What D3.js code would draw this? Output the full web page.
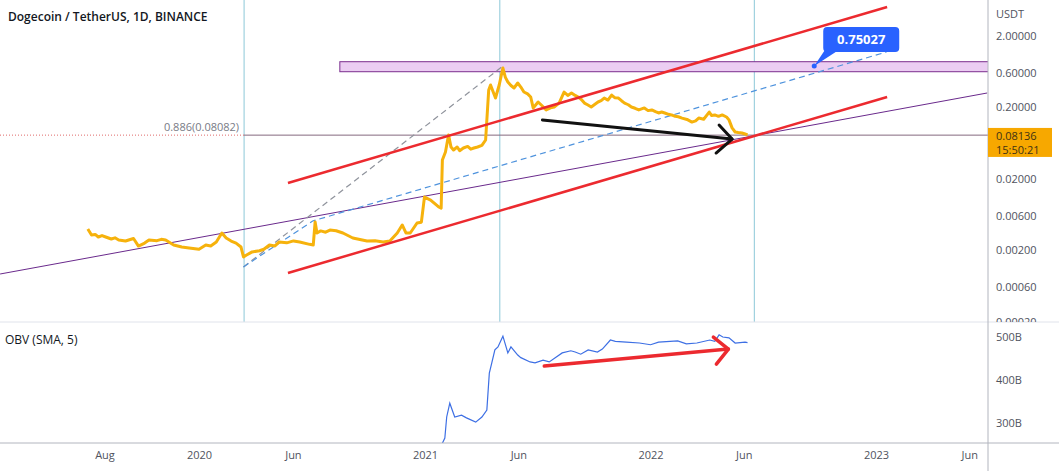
<!DOCTYPE html>
<html>
<head>
<meta charset="utf-8">
<script src="https://cdn.jsdelivr.net/npm/d3@7"></script>
<style>
  html, body { margin: 0; padding: 0; background: #fff; }
  svg { display: block; font-family: "Open Sans", "Noto Sans", sans-serif; }
</style>
</head>
<body>
<svg id="chart" width="1059" height="471"></svg>
<script>
// DOGE/USDT daily closes
const priceDates = [
  "2019-07-05","2019-07-11","2019-07-17","2019-07-22","2019-07-28","2019-08-03","2019-08-12","2019-08-18","2019-08-24","2019-09-04","2019-09-17",
  "2019-09-25","2019-10-05","2019-10-12","2019-10-25","2019-11-01","2019-11-08","2019-11-21","2019-12-04","2019-12-16",
  "2020-01-01","2020-01-12","2020-01-20","2020-01-29","2020-02-07","2020-02-14","2020-02-22","2020-03-01","2020-03-09",
  "2020-03-13","2020-03-18","2020-03-27","2020-04-08","2020-04-15","2020-04-24","2020-05-03","2020-05-10","2020-05-22","2020-06-02","2020-06-12",
  "2020-06-28","2020-07-04","2020-07-07","2020-07-10","2020-07-16","2020-07-24","2020-07-31","2020-08-10","2020-08-21","2020-09-06",
  "2020-09-29","2020-10-12","2020-10-25","2020-11-05","2020-11-17","2020-11-25","2020-12-01","2020-12-08","2020-12-19",
  "2020-12-26","2020-12-31","2021-01-10","2021-01-23","2021-01-27","2021-01-29","2021-02-03","2021-02-08",
  "2021-02-12","2021-02-16","2021-02-22","2021-02-26","2021-03-04","2021-03-11","2021-03-16","2021-03-21","2021-03-27","2021-04-03","2021-04-09","2021-04-14",
  "2021-04-17","2021-04-25","2021-05-01","2021-05-07","2021-05-11","2021-05-15","2021-05-20","2021-05-25","2021-05-31","2021-06-05","2021-06-10",
  "2021-06-16","2021-06-21","2021-06-25","2021-07-03","2021-07-09","2021-07-16","2021-07-23","2021-07-29","2021-08-06","2021-08-14","2021-08-20","2021-08-26",
  "2021-09-01","2021-09-06","2021-09-11","2021-09-16","2021-09-21","2021-09-27","2021-10-03","2021-10-08","2021-10-13","2021-10-18","2021-10-24","2021-10-30","2021-11-04","2021-11-10","2021-11-15","2021-11-20",
  "2021-11-26","2021-12-01","2021-12-07","2021-12-13","2021-12-22","2021-12-28","2022-01-03","2022-01-09","2022-01-14","2022-01-19","2022-01-24","2022-01-30","2022-02-04","2022-02-10","2022-02-15","2022-02-21",
  "2022-03-01","2022-03-09","2022-03-15","2022-03-20","2022-03-28","2022-04-06","2022-04-10","2022-04-15","2022-04-21","2022-04-27","2022-05-04","2022-05-08","2022-05-13","2022-05-18",
  "2022-05-23","2022-05-29","2022-06-03","2022-06-07"
];
const priceValues = [
  0.00393,0.00324,0.00330,0.00304,0.00318,0.00304,0.00285,0.00296,0.00276,0.00267,0.00290,
  0.00227,0.00250,0.00276,0.00270,0.00282,0.00276,0.00235,0.00220,0.00213,
  0.00205,0.00235,0.00228,0.00259,0.00346,0.00294,0.00267,0.00250,0.00220,
  0.00160,0.00170,0.00188,0.00195,0.00205,0.00235,0.00228,0.00259,0.00252,0.00268,0.00259,
  0.00240,0.00235,0.00494,0.00346,0.00370,0.00355,0.00380,0.00372,0.00346,0.00294,
  0.00267,0.00270,0.00259,0.00267,0.00346,0.00448,0.00346,0.00346,0.00477,
  0.00490,0.01100,0.01000,0.00800,0.00770,0.03630,0.04690,0.08120,
  0.05500,0.05010,0.05520,0.04900,0.05340,0.05620,0.05150,0.05340,0.05520,0.05800,0.06910,0.34600,
  0.40600,0.26700,0.40600,0.70200,0.52000,0.44700,0.40000,0.36900,0.43300,0.38000,0.32400,
  0.30500,0.27600,0.19400,0.23500,0.21000,0.18200,0.19500,0.20000,0.22700,0.32400,0.29000,0.31400,
  0.29000,0.27600,0.25500,0.22700,0.21500,0.20000,0.21800,0.23500,0.24500,0.26700,0.25000,0.29400,0.27000,0.26700,0.24500,0.22700,
  0.21500,0.20000,0.19200,0.18200,0.19400,0.17800,0.18200,0.17200,0.16500,0.17000,0.16500,0.15800,0.15500,0.14800,0.14600,0.14000,
  0.13400,0.12300,0.12800,0.14000,0.13500,0.17000,0.15200,0.15500,0.14800,0.15500,0.14500,0.13200,0.10200,0.08940,
  0.08800,0.08660,0.08390,0.08136
];

// OBV (SMA 5), billions
const obvDates = [
  "2021-01-20","2021-01-29","2021-02-02","2021-02-05","2021-02-10","2021-02-18","2021-03-01","2021-03-09","2021-03-24",
  "2021-04-03","2021-04-11","2021-04-15","2021-04-19","2021-04-24","2021-04-29","2021-05-07","2021-05-15",
  "2021-05-20","2021-05-31","2021-06-05","2021-06-20","2021-06-28","2021-07-11","2021-07-21","2021-08-11",
  "2021-08-25","2021-09-01","2021-09-10","2021-09-22","2021-10-07","2021-10-15","2021-10-28","2021-11-05",
  "2021-11-23","2021-12-14","2022-01-01","2022-01-14","2022-02-14","2022-02-28","2022-03-17","2022-04-07",
  "2022-04-15","2022-04-22","2022-04-28","2022-05-08","2022-05-18","2022-06-03","2022-06-07"
];
const obvValues = [
  180,253,265,314,346,314,318,312,302,
  314,330,416,440,470,477,502,463,
  477,458,452,442,440,446,442,463,
  468,465,460,470,465,472,493,490,
  488,486,482,488,491,484,486,493,
  490,505,500,498,486,488,487
];

const priceTicks = [2, 0.6, 0.2, 0.02, 0.006, 0.002, 0.0006, 0.0002];
const obvTicks = [500, 400, 300];
const timeTickDates = ["2019-08-01","2020-01-01","2020-06-01","2021-01-01","2021-06-01","2022-01-01","2022-06-01","2023-01-01","2023-06-01"];
const timeTickLabels = ["Aug","2020","Jun","2021","Jun","2022","Jun","2023","Jun"];

const lastPrice = 0.08136;
const countdown = "15:50:21";
const fibRatio = 0.886, fibPrice = 0.08082, fibStart = "2020-03-14";
const targetDate = "2022-09-23", targetPrice = 0.75027;
const markerDates = ["2020-03-14", "2021-05-02", "2022-06-18"];

// drawings: [date, price]
const channelUpper = [["2020-05-24", 0.0173], ["2023-01-19", 5.01]];
const channelLower = [["2020-05-24", 0.000954], ["2023-01-19", 0.276]];
const purpleTrend = [["2019-02-13", 0.000923], ["2023-06-30", 0.314]];
const grayDashed = [["2020-03-13", 0.00116], ["2021-05-05", 0.725]];
const blueDashed = [["2020-03-13", 0.00116], ["2020-07-03", 0.00509], ["2023-01-18", 1.176]];
const zoneDates = ["2020-08-16", "2023-12-31"], zonePrices = [0.623, 0.86];
const blackArrow = [["2021-07-10", 0.132], ["2022-05-13", 0.0713]];
const obvArrow = [["2021-07-13", 432.6], ["2022-05-07", 472]];

const parse = d3.timeParse("%Y-%m-%d");
const plotRight = 988, mainBottom = 322, obvBottom = 443;

const svg = d3.select("#chart");
const x = d3.scaleTime().domain([parse("2020-01-01"), parse("2023-01-01")]).range([199, 876]);
const y = d3.scaleLog().domain([0.0002, 2]).range([321.5, 35.5]);
const yObv = d3.scaleLinear().domain([300, 500]).range([423, 337]);

const defs = svg.append("defs");
defs.append("clipPath").attr("id", "clipMain")
  .append("rect").attr("x", 0).attr("y", 0).attr("width", plotRight).attr("height", mainBottom);
defs.append("clipPath").attr("id", "clipObv")
  .append("rect").attr("x", 0).attr("y", mainBottom).attr("width", plotRight).attr("height", obvBottom - mainBottom);
defs.append("clipPath").attr("id", "clipAxis")
  .append("rect").attr("x", plotRight).attr("y", 0).attr("width", 80).attr("height", mainBottom);

const main = svg.append("g").attr("clip-path", "url(#clipMain)");
const obvG = svg.append("g").attr("clip-path", "url(#clipObv)");

const pt = d => [x(parse(d[0])), y(d[1])];
const seg = d3.line().x(d => pt(d)[0]).y(d => pt(d)[1]);

// vertical marker lines
main.selectAll(".vmark").data(markerDates).join("line")
  .attr("x1", d => x(parse(d))).attr("x2", d => x(parse(d)))
  .attr("y1", 0).attr("y2", mainBottom)
  .attr("stroke", "#8cc8d8").attr("stroke-width", 1);

// resistance zone
main.append("rect")
  .attr("x", x(parse(zoneDates[0]))).attr("y", y(zonePrices[1]))
  .attr("width", x(parse(zoneDates[1])) - x(parse(zoneDates[0])))
  .attr("height", y(zonePrices[0]) - y(zonePrices[1]))
  .attr("fill", "#ebcdf2").attr("stroke", "#7b2d8e").attr("stroke-width", 1);

// fib 0.886 level
const yFib = y(fibPrice), xFib = x(parse(fibStart));
main.append("line").attr("x1", 0).attr("x2", xFib).attr("y1", yFib).attr("y2", yFib)
  .attr("stroke", "#e06a6a").attr("stroke-width", 1).attr("stroke-dasharray", "1,2");
main.append("line").attr("x1", xFib).attr("x2", plotRight).attr("y1", yFib).attr("y2", yFib)
  .attr("stroke", "#85687f").attr("stroke-width", 1);
main.append("text").attr("x", xFib - 5).attr("y", yFib - 4)
  .attr("text-anchor", "end").attr("font-size", 11).attr("fill", "#787b86")
  .text(fibRatio + "(" + fibPrice.toFixed(5) + ")");

// trend lines
main.append("path").attr("d", seg(purpleTrend)).attr("fill", "none")
  .attr("stroke", "#6a2a8c").attr("stroke-width", 1);
main.append("path").attr("d", seg(grayDashed)).attr("fill", "none")
  .attr("stroke", "#8f939c").attr("stroke-width", 1.2).attr("stroke-dasharray", "6,4");
main.append("path").attr("d", seg(blueDashed)).attr("fill", "none")
  .attr("stroke", "#4f93dd").attr("stroke-width", 1.2).attr("stroke-dasharray", "6,4");

// price
const priceData = priceDates.map((d, i) => ({date: parse(d), value: priceValues[i]}));
main.append("path").datum(priceData)
  .attr("fill", "none").attr("stroke", "#f6b20c").attr("stroke-width", 3)
  .attr("stroke-linejoin", "round")
  .attr("d", d3.line().x(d => x(d.date)).y(d => y(d.value)));

[channelUpper, channelLower].forEach(c => {
  main.append("path").attr("d", seg(c)).attr("fill", "none")
    .attr("stroke", "#ec2a2f").attr("stroke-width", 2.5);
});

// arrows
function arrow(g, p0, p1, color, w, heads) {
  g.append("line").attr("x1", p0[0]).attr("y1", p0[1]).attr("x2", p1[0]).attr("y2", p1[1])
    .attr("stroke", color).attr("stroke-width", w).attr("stroke-linecap", "round");
  g.append("path")
    .attr("d", `M${p1[0] + heads[0][0]},${p1[1] + heads[0][1]}L${p1[0]},${p1[1]}L${p1[0] + heads[1][0]},${p1[1] + heads[1][1]}`)
    .attr("fill", "none").attr("stroke", color).attr("stroke-width", w)
    .attr("stroke-linecap", "round").attr("stroke-linejoin", "round");
}
arrow(main, pt(blackArrow[0]), pt(blackArrow[1]), "#111", 3, [[-13, -14], [-16, 14]]);

// target label
const tx = x(parse(targetDate)), ty = y(targetPrice);
main.append("path")
  .attr("d", `M${tx + 10},${ty - 15}L${tx + 23},${ty - 15}L${tx},${ty}Z`).attr("fill", "#2962ff");
main.append("rect").attr("x", tx + 9).attr("y", ty - 39).attr("width", 76).attr("height", 25)
  .attr("rx", 4).attr("fill", "#2962ff");
main.append("circle").attr("cx", tx).attr("cy", ty).attr("r", 2.5).attr("fill", "#2962ff");
main.append("text").attr("x", tx + 47).attr("y", ty - 22)
  .attr("text-anchor", "middle").attr("font-size", 13).attr("font-weight", 700).attr("fill", "#fff")
  .text(targetPrice.toFixed(5));

// OBV pane
const obvData = obvDates.map((d, i) => ({date: parse(d), value: obvValues[i]}));
obvG.append("path").datum(obvData)
  .attr("fill", "none").attr("stroke", "#3d6fe4").attr("stroke-width", 1.2)
  .attr("d", d3.line().x(d => x(d.date)).y(d => yObv(d.value)));
arrow(obvG, [x(parse(obvArrow[0][0])), yObv(obvArrow[0][1])], [x(parse(obvArrow[1][0])), yObv(obvArrow[1][1])],
  "#ec2a2f", 3.5, [[-15, -12], [-12, 15]]);

// pane borders
svg.append("line").attr("x1", 0).attr("x2", 1059).attr("y1", mainBottom).attr("y2", mainBottom)
  .attr("stroke", "#e0e3eb");
svg.append("line").attr("x1", 0).attr("x2", 1059).attr("y1", obvBottom).attr("y2", obvBottom)
  .attr("stroke", "#b2b5be");
svg.append("line").attr("x1", plotRight).attr("x2", plotRight).attr("y1", 0).attr("y2", 471)
  .attr("stroke", "#b2b5be");

// axes
const axisText = g => {
  g.select(".domain").remove();
  g.selectAll("text").attr("font-size", 11).attr("fill", "#50535e")
    .attr("font-family", "'Open Sans', 'Noto Sans', sans-serif");
};
svg.append("g").attr("clip-path", "url(#clipAxis)").append("g")
  .attr("transform", `translate(${plotRight},0)`)
  .call(d3.axisRight(y).tickValues(priceTicks).tickFormat(d3.format(".5f")).tickSize(0).tickPadding(8))
  .call(axisText);
svg.append("g").attr("transform", `translate(${plotRight},0)`)
  .call(d3.axisRight(yObv).tickValues(obvTicks).tickFormat(d => d + "B").tickSize(0).tickPadding(8))
  .call(axisText);
svg.append("g").attr("transform", `translate(0,${obvBottom})`)
  .call(d3.axisBottom(x).tickValues(timeTickDates.map(parse)).tickFormat((d, i) => timeTickLabels[i])
    .tickSize(0).tickPadding(8))
  .call(axisText);

svg.append("text").attr("x", plotRight + 8).attr("y", 18).attr("font-size", 11).attr("fill", "#50535e")
  .text("USDT");

// last price tag
const yLast = y(lastPrice);
svg.append("rect").attr("x", plotRight).attr("y", yLast - 7).attr("width", 64).attr("height", 29)
  .attr("fill", "#f7a800");
svg.append("text").attr("x", plotRight + 8).attr("y", yLast + 5).attr("font-size", 11).attr("fill", "#3e3215")
  .text(lastPrice.toFixed(5));
svg.append("text").attr("x", plotRight + 8).attr("y", yLast + 19).attr("font-size", 11).attr("fill", "#3e3215")
  .text(countdown);

// titles
svg.append("text").attr("x", 8).attr("y", 21).attr("font-size", 12).attr("font-weight", 600)
  .attr("fill", "#131722").text("Dogecoin / TetherUS, 1D, BINANCE");
svg.append("text").attr("x", 5).attr("y", 344).attr("font-size", 12).attr("fill", "#131722")
  .text("OBV (SMA, 5)");
</script>
</body>
</html>
